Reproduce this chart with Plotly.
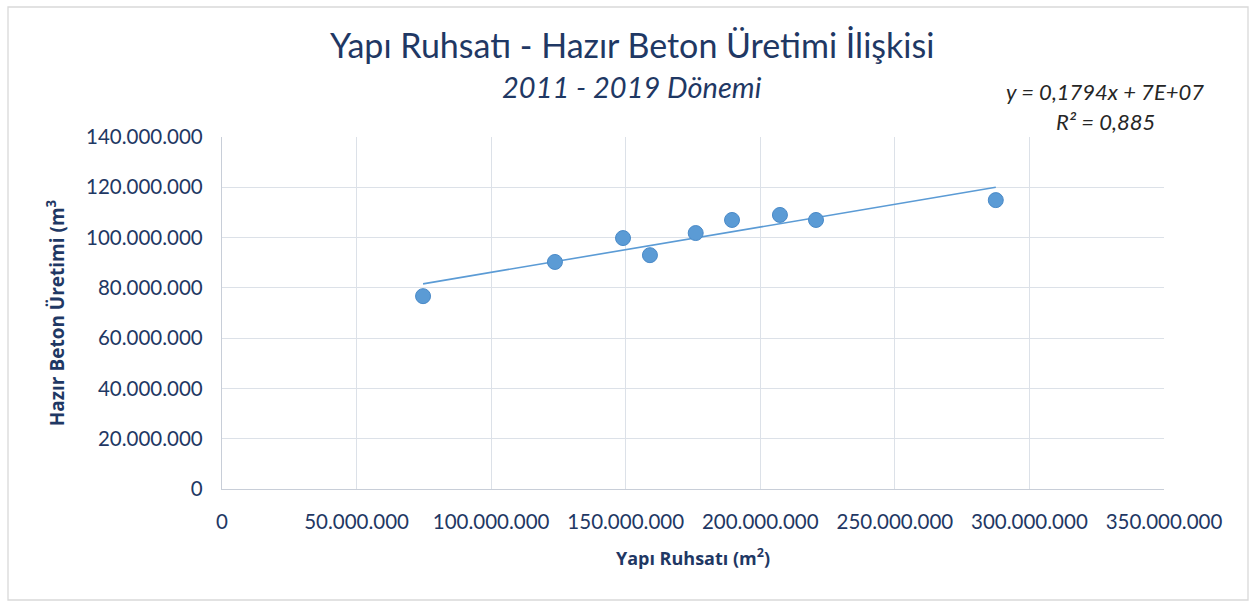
import numpy as np
import plotly.graph_objects as go

# Data
yapi_ruhsati = [74.7e6, 123.7e6, 149.0e6, 159.0e6, 176.0e6, 189.5e6, 207.3e6, 220.7e6, 287.5e6]
hazir_beton = [76.7e6, 90.3e6, 99.8e6, 93.0e6, 101.8e6, 107.0e6, 109.0e6, 107.0e6, 114.9e6]

title_text = "Yapı Ruhsatı - Hazır Beton Üretimi İlişkisi"
subtitle_text = "2011 - 2019 Dönemi"
equation_text = "y = 0,1794x + 7E+07"
r2_text = "R² = 0,885"
x_title = "Yapı Ruhsatı (m<sup>2</sup>)"
y_title = "Hazır Beton Üretimi (m<sup>3</sup>"

x_range = [0, 350e6]
y_range = [0, 140e6]

navy = "#1F3864"
blue = "#5B9BD5"
grid = "#DCE1E8"
font = "Lato, 'Open Sans', sans-serif"

# Linear trend line computed from data
xa = np.array(yapi_ruhsati)
ya = np.array(hazir_beton)
slope, intercept = np.polyfit(xa, ya, 1)
tx = [xa.min(), xa.max()]
ty = [slope * v + intercept for v in tx]

fig = go.Figure()
fig.add_trace(go.Scatter(x=tx, y=ty, mode="lines",
                         line=dict(color=blue, width=1.6),
                         hoverinfo="skip", showlegend=False))
fig.add_trace(go.Scatter(x=yapi_ruhsati, y=hazir_beton, mode="markers",
                         marker=dict(color=blue, size=15,
                                     line=dict(color="#4A8AC8", width=1)),
                         showlegend=False))

W, H = 1257, 607
ml, mr, mt, mb = 222, 93, 137, 118
pw, ph = W - ml - mr, H - mt - mb

def px_x(p):
    return (p - ml) / pw

def px_y(p):
    return (H - mb - p) / ph

fig.update_layout(
    width=W, height=H,
    margin=dict(l=ml, r=mr, t=mt, b=mb),
    paper_bgcolor="white", plot_bgcolor="white",
    separators=",.",
    font=dict(family=font, color=navy),
    xaxis=dict(range=x_range, dtick=50e6, tickformat=",d",
               showgrid=True, gridcolor=grid, gridwidth=1.3,
               showline=True, linecolor="#C8CED8", linewidth=1.3,
               zeroline=False, ticks="outside", ticklen=14, tickcolor="rgba(0,0,0,0)",
               tickfont=dict(size=20.5, color=navy, family=font),
               title=dict(text=x_title, standoff=20,
                          font=dict(size=18, color=navy, family="'Open Sans', sans-serif", weight="bold"))),
    yaxis=dict(range=y_range, dtick=20e6, tickformat=",d",
               showgrid=True, gridcolor=grid, gridwidth=1.3,
               showline=True, linecolor="#C8CED8", linewidth=1.3,
               zeroline=False, ticks="outside", ticklen=14, tickcolor="rgba(0,0,0,0)",
               tickfont=dict(size=20.5, color=navy, family=font),
               title=dict(text=y_title, standoff=16,
                          font=dict(size=19, color=navy, family="'Open Sans', sans-serif", weight="bold"))),
    shapes=[dict(type="rect", xref="paper", yref="paper",
                 x0=px_x(8), x1=px_x(1248), y0=px_y(600), y1=px_y(7),
                 line=dict(color="#D9D9D9", width=1.3), layer="below")],
    annotations=[
        dict(text=title_text, xref="paper", yref="paper",
             x=px_x(632), y=px_y(45), showarrow=False,
             font=dict(size=34, color=navy, family=font),
             xanchor="center", yanchor="middle"),
        dict(text="<i>" + subtitle_text + "</i>", xref="paper", yref="paper",
             x=px_x(632), y=px_y(87), showarrow=False,
             font=dict(size=29, color=navy, family=font),
             xanchor="center", yanchor="middle"),
        dict(text="<i>" + equation_text + "</i>", xref="paper", yref="paper",
             x=px_x(1105), y=px_y(91), showarrow=False,
             font=dict(size=22, color="#262626", family=font),
             xanchor="center", yanchor="middle"),
        dict(text="<i>" + r2_text + "</i>", xref="paper", yref="paper",
             x=px_x(1105), y=px_y(121), showarrow=False,
             font=dict(size=22, color="#262626", family=font),
             xanchor="center", yanchor="middle"),
    ],
)

fig.write_html("out.html",
               config={"displayModeBar": False},
               post_script="document.body.style.margin='0';document.body.style.padding='0';")
